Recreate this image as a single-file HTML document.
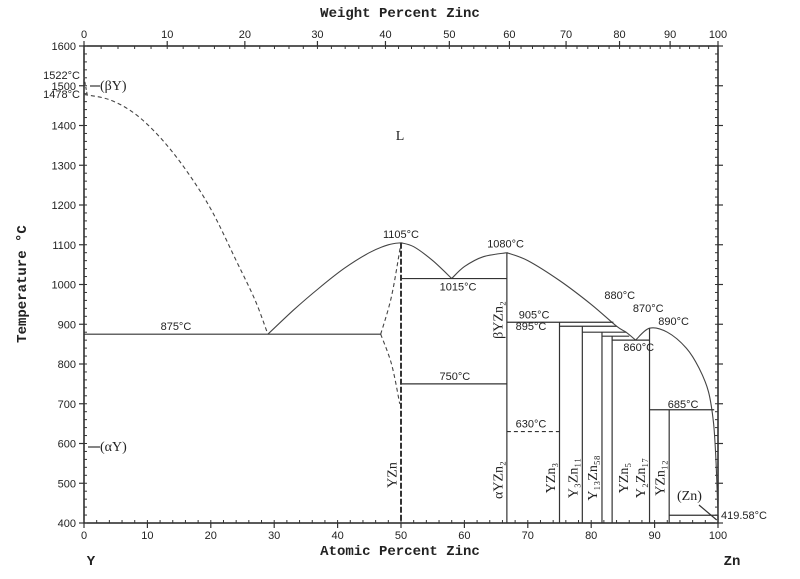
<!DOCTYPE html>
<html><head><meta charset="utf-8"><style>
body{margin:0;background:#fff}
svg{display:block}
text{font-family:"Liberation Sans",sans-serif;fill:#222}
.t{font-size:11px}
.ti{font-family:"Liberation Mono",monospace;font-size:14px;font-weight:bold}
.ph{font-family:"Liberation Serif",serif;font-size:14px}
</style></head><body>
<svg id="c" width="800" height="579" viewBox="0 0 800 579" xmlns="http://www.w3.org/2000/svg"></svg>
<script>
const tempTicks=[400,500,600,700,800,900,1000,1100,1200,1300,1400,1500,1600];
const atTicks=[0,10,20,30,40,50,60,70,80,90,100];
const wtTicks=[0,10,20,30,40,50,60,70,80,90,100];
const liqY_at=[0,4,8,12,16,20,24,27,29];
const liqY_T=[1478,1465,1430,1370,1290,1190,1060,960,875];
const liq1_at=[29,33,37,41,45,48,50];
const liq1_T=[875,935,990,1040,1080,1100,1105];
const liq2_at=[50,52,55,58];
const liq2_T=[1105,1095,1060,1015];
const liq3_at=[58,60,63,66.7];
const liq3_T=[1015,1045,1070,1080];
const liq4_at=[66.7,70,75,80,84,85.5,87];
const liq4_T=[1080,1060,1010,950,895,880,860];
const liq5_at=[87,89.2,92,95,97,98.5,99.3,99.7,100];
const liq5_T=[860,890,880,840,790,730,650,550,419.58];
const NS="http://www.w3.org/2000/svg";
const svg=document.getElementById('c');
const L=84,R=718,TOP=46,BOT=523;
function X(a){return L+(R-L)*a/100;}
function Y(t){return BOT-(BOT-TOP)*(t-400)/1200;}
function W2A(w){const z=w/65.38,y=(100-w)/88.906;return 100*z/(z+y);}
function el(tag,attrs,txt){const e=document.createElementNS(NS,tag);for(const k in attrs)e.setAttribute(k,attrs[k]);if(txt!==undefined)e.textContent=txt;svg.appendChild(e);return e;}
function line(x1,y1,x2,y2,name,dash,w){const e=el('line',{x1,y1,x2,y2,stroke:'#333','stroke-width':w||1.2});if(dash)e.setAttribute('stroke-dasharray',dash);

return e;}
function txt(x,y,s,name,cls,anchor){const e=el('text',{x,y,class:cls||'t','text-anchor':anchor||'middle'},s);

return e;}
function curve(as,ts,name,dash){
const P=as.map((a,i)=>[X(a),Y(ts[i])]);
let d='M'+P[0][0].toFixed(1)+' '+P[0][1].toFixed(1);
for(let i=0;i<P.length-1;i++){const p0=P[i-1]||P[i],p1=P[i],p2=P[i+1],p3=P[i+2]||P[i+1];
const c1=[p1[0]+(p2[0]-p0[0])/6,p1[1]+(p2[1]-p0[1])/6],c2=[p2[0]-(p3[0]-p1[0])/6,p2[1]-(p3[1]-p1[1])/6];
d+='C'+c1.map(v=>v.toFixed(1)).join(' ')+' '+c2.map(v=>v.toFixed(1)).join(' ')+' '+p2[0].toFixed(1)+' '+p2[1].toFixed(1);}
const p=el('path',{d,fill:'none',stroke:'#444','stroke-width':1.1});if(dash)p.setAttribute('stroke-dasharray',dash);

}
const fr=el('rect',{x:L,y:TOP,width:R-L,height:BOT-TOP,fill:'none',stroke:'#222','stroke-width':1.5});


tempTicks.forEach(t=>{line(L-5,Y(t),L,Y(t),'y-tick');line(R,Y(t),R+5,Y(t),'y-tick-right');txt(L-8,Y(t)+4,t,'y-tick-label','t','end');});
for(let t=400;t<=1600;t+=20){line(L,Y(t),L+3,Y(t),'y-minor-tick',null,1);line(R-3,Y(t),R,Y(t),'y-minor-tick-right',null,1);}
atTicks.forEach(a=>{line(X(a),BOT,X(a),BOT+5,'x-tick');txt(X(a),BOT+16,a,'x-tick-label');});
for(let a=0;a<=100;a+=2)line(X(a),BOT-3,X(a),BOT,'x-minor-tick',null,1);
wtTicks.forEach(w=>{line(X(W2A(w)),TOP-5,X(W2A(w)),TOP,'top-tick');txt(X(W2A(w)),TOP-8,w,'top-tick-label');});
for(let w=0;w<=100;w+=2)line(X(W2A(w)),TOP,X(W2A(w)),TOP+3,'top-minor-tick',null,1);
txt(400,17,'Weight Percent Zinc','top-axis-title','ti');
txt(400,555,'Atomic Percent Zinc','x-axis-title','ti');
const yt=txt(26,284,'Temperature °C','y-axis-title','ti');yt.setAttribute('transform','rotate(-90 26 284)');
txt(91,565,'Y','y-element-label','ti');txt(732,565,'Zn','zn-element-label','ti');
curve(liqY_at,liqY_T,'liquidus-y-side','4,3');
curve(liq1_at,liq1_T,'liquidus-yzn-left');
curve(liq2_at,liq2_T,'liquidus-yzn-right');
curve(liq3_at,liq3_T,'liquidus-yzn2');
curve(liq4_at,liq4_T,'liquidus-zn-rich');
curve(liq5_at,liq5_T,'liquidus-yzn12');
curve([46.8,48.5,50],[875,970,1105],'solvus-upper','4,3');
curve([46.8,48.5,49.8],[875,800,700],'solvus-lower','4,3');
curve([0,0.5],[1522,1478],'beta-y-boundary','3,2');
function H(a1,a2,t,n,d){line(X(a1),Y(t),X(a2),Y(t),n,d);}
function V(a,t1,t2,n,d,w){line(X(a),Y(t1),X(a),Y(t2),n,d,w);}
H(0,46.8,875,'eutectic-875');H(50,66.7,1015,'eutectic-1015');H(50,66.7,750,'transition-750');
H(66.7,75,630,'transition-630','4,3');H(66.7,83.5,905,'peritectic-905');H(75,84,895,'peritectic-895');
H(78.6,85.5,880,'peritectic-880');H(81.7,86,870,'peritectic-870');H(83.3,89.2,860,'eutectic-860');
H(89.2,99.4,685,'peritectic-685');H(92.3,100,419.58,'eutectic-419');
V(50,1105,400,'yzn-line','6,2',2);V(66.7,1080,400,'yzn2-line');V(75,905,400,'yzn3-line');V(78.6,895,400,'y3zn11-line');
V(81.7,880,400,'y13zn58-line');V(83.3,870,400,'yzn5-line');V(89.2,890,400,'y2zn17-line');V(92.3,685,400,'yzn12-line');
txt(400,140,'L','liquid-label','ph').setAttribute('font-size','20');
txt(X(50),Y(1105)-5,'1105°C','label-1105');txt(X(66.5),Y(1080)-5,'1080°C','label-1080');
txt(X(59),Y(1015)+12,'1015°C','label-1015');txt(X(58.5),Y(750)-4,'750°C','label-750');
txt(X(14.5),Y(875)-4,'875°C','label-875');txt(X(70.5),Y(630)-4,'630°C','label-630');
txt(X(71),Y(905)-4,'905°C','label-905');txt(X(70.5),Y(895)+4,'895°C','label-895');
txt(X(84.5),299,'880°C','label-880');txt(X(89),312,'870°C','label-870');txt(X(93),325,'890°C','label-890');
txt(X(87.5),351,'860°C','label-860');txt(X(94.5),408,'685°C','label-685');
txt(X(100)+3,519,'419.58°C','label-419','t','start');
txt(L-4,79,'1522°C','label-1522','t','end');txt(L-4,98,'1478°C','label-1478','t','end');
txt(100,90,'(βY)','beta-y-label','ph','start');txt(100,451,'(αY)','alpha-y-label','ph','start');
line(90,86,100,86,'beta-y-arrow');line(88,447,100,447,'alpha-y-arrow');
txt(X(95.5),500,'(Zn)','zn-phase-label','ph');
line(X(97),505,X(99.8),520,'zn-arrow');
function VL(a,y,s,n){const e=txt(X(a),y,s,n,'ph');e.setAttribute('transform','rotate(-90 '+X(a)+' '+y+')');}
VL(49.3,475,'YZn','yzn-label');VL(66,320,'βYZn₂','beta-yzn2-label');VL(66,480,'αYZn₂','alpha-yzn2-label');
VL(74.3,478,'YZn₃','yzn3-label');VL(77.8,478,'Y₃Zn₁₁','y3zn11-label');VL(80.9,478,'Y₁₃Zn₅₈','y13zn58-label');
VL(85.8,478,'YZn₅','yzn5-label');VL(88.5,478,'Y₂Zn₁₇','y2zn17-label');VL(91.6,478,'YZn₁₂','yzn12-label');
</script>
</body></html>
